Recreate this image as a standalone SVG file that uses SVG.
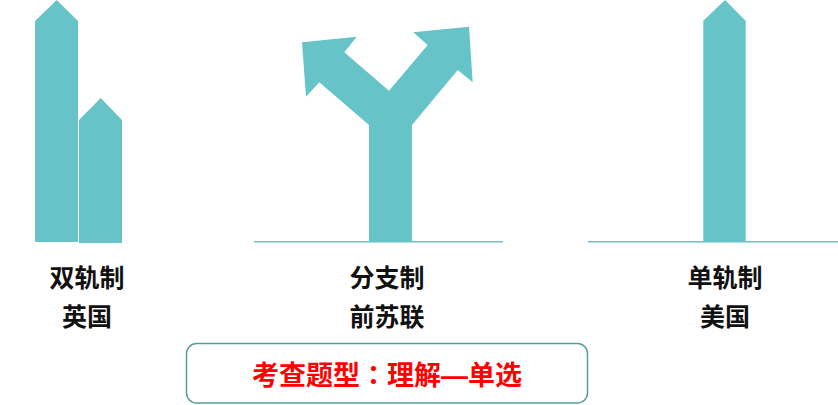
<svg xmlns="http://www.w3.org/2000/svg" width="838" height="405" viewBox="0 0 838 405">
<style>
.shape{fill:#66C4C9;}
.ground{stroke:#66C4C9;stroke-width:1.5;fill:none;}
.lbl{font-family:"Liberation Sans","Noto Sans CJK SC",sans-serif;font-weight:bold;font-size:25px;fill:#111111;text-anchor:middle;}
.note{font-family:"Liberation Sans","Noto Sans CJK SC",sans-serif;font-weight:bold;font-size:27px;fill:#FF0000;text-anchor:middle;}
.jp{font-family:"Noto Sans CJK JP",sans-serif;}
</style>
<rect width="838" height="405" fill="#ffffff"/>
<g id="dual">
<polygon class="shape" points="35,242 35,21 56.7,0 78,21 78,242"/>
<polygon class="shape" points="79,243 79,120 100.7,98 122,120 122,243"/>
<text class="lbl" x="87" y="287">双轨制</text>
<text class="lbl" x="87" y="326">英国</text>
</g>
<g id="branch">
<line class="ground" x1="254" y1="241.7" x2="503" y2="241.7"/>
<polygon class="shape" points="369,242 369,125 319.3,82.3 306,96.7 302,42.3 356.7,36.7 344.3,52.3 389,90.7 427.7,45 413.3,32.3 469,26.7 472.7,82.3 457.7,70 412,125 412,242"/>
<text class="lbl" x="387" y="287">分支制</text>
<text class="lbl" x="387" y="326">前苏联</text>
</g>
<g id="single">
<line class="ground" x1="588" y1="241.7" x2="838" y2="241.7"/>
<polygon class="shape" points="703.3,242 703.3,20.7 725,0 745.7,20.7 745.7,242"/>
<text class="lbl" x="725" y="287">单轨制</text>
<text class="lbl" x="725" y="326">美国</text>
</g>
<g id="note">
<rect x="186.5" y="343.5" width="401" height="59.5" rx="10" ry="10" fill="#ffffff" stroke="#5A9C9E" stroke-width="1.5"/>
<text class="note" x="387" y="385">考查题型<tspan class="jp">：</tspan>理解—单选</text>
</g>
</svg>
